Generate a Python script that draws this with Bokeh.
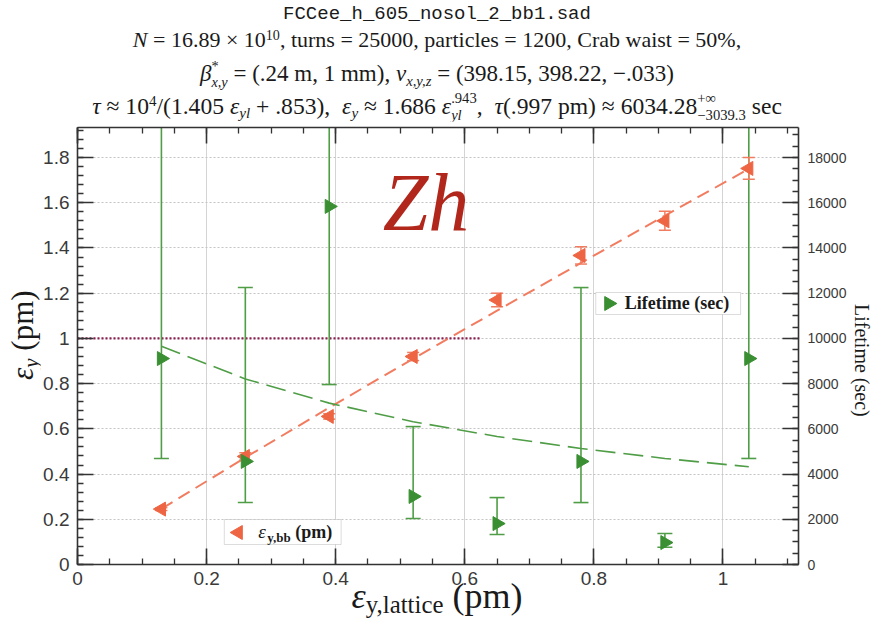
import numpy as np
from bokeh.plotting import figure
from bokeh.models import (Range1d, LinearAxis, Label, Div, BoxAnnotation,
                          SingleIntervalTicker, CustomJSTickFormatter)
from bokeh.layouts import column, row
from bokeh.embed import file_html
from bokeh.resources import INLINE

# ---------------- data ----------------
eps_lattice = [0.13, 0.26, 0.39, 0.52, 0.65, 0.78, 0.91, 1.04]
eps_bb = [0.245, 0.478, 0.655, 0.920, 1.170, 1.367, 1.520, 1.752]
eps_bb_err = [0.006, 0.016, 0.012, 0.018, 0.030, 0.038, 0.042, 0.048]
eps_bb_fit = [0.246, 0.473, 0.694, 0.910, 1.123, 1.334, 1.543, 1.750]

lifetime = [9110, 4560, 15840, 3010, 1810, 4560, 970, 9110]
lifetime_lo = [4690, 2740, 7960, 2035, 1330, 2740, 760, 4690]
lifetime_hi = [None, 12250, None, 6100, 2960, 12250, 1370, None]   # None = +inf
lifetime_fit = [9656, 8208, 7138, 6315, 5662, 5131, 4691, 4321]

ref_line_x = [0.0, 0.625]
ref_line_y = [1.0, 1.0]

# ---------------- styling ----------------
SERIF = "Liberation Serif"
SANS = "Liberation Sans"
GREEN = "#3a8f33"
GREEN_LINE = "#4f9d46"
ORANGE = "#ee6543"
ORANGE_LINE = "#f27c60"
AXIS = "#333333"
TXT = "#1a1a1a"

X0, X1 = 0.0, 1.117
Y0, Y1 = 0.0, 1.933
LIFE_MAX = 19330
FRAME_L, FRAME_R, FRAME_T, FRAME_B = 76, 798, 127, 564
DIV_H = 121
LEFT_W, RIGHT_W = 40, 24
FIG_W = 874 - LEFT_W - RIGHT_W
BOTTOM_BORDER = 30
FIG_H = (FRAME_T - DIV_H) + (FRAME_B - FRAME_T) + BOTTOM_BORDER
BOT_H = 625 - DIV_H - FIG_H
BASE_SHIFT = 0.37   # Label baseline correction (em)


def px2x(px):
    return X0 + (px - FRAME_L) / (FRAME_R - FRAME_L) * (X1 - X0)


def px2y(py):
    return Y0 + (FRAME_B - py) / (FRAME_B - FRAME_T) * (Y1 - Y0)


# ---------------- title (HTML) ----------------
def stack(sup, sub):
    return ('<span style="display:inline-block;vertical-align:-0.42em;line-height:1.15em;'
            'font-size:0.62em;text-align:left;">'
            f'<span style="display:block">{sup}</span><span style="display:block">{sub}</span></span>')


def line(top, html, size=22, font=SERIF):
    return (f'<div style="position:absolute;left:0;top:{top}px;width:874px;text-align:center;'
            f'font-family:\'{font}\';font-size:{size}px;line-height:24px;white-space:nowrap;">{html}</div>')


def sup(t):
    return f'<sup style="font-size:0.64em;vertical-align:0.5em;line-height:0">{t}</sup>'


def sub(t):
    return f'<sub style="font-size:0.64em;vertical-align:-0.3em;line-height:0">{t}</sub>'


title_html = (
    f'<div style="position:relative;width:874px;height:{DIV_H}px;color:{TXT};">'
    + line(2, "FCCee_h_605_nosol_2_bb1.sad", size=19, font="Liberation Mono")
    + line(28, "<i>N</i> = 16.89 × 10" + sup("10") + ", turns = 25000, particles = 1200, Crab waist = 50%,")
    + line(58, "<i>β</i>" + stack("*", "<i>x,y</i>") + " = (.24 m, 1 mm), <i>ν</i>" + sub("<i>x,y,z</i>")
           + " = (398.15, 398.22, −.033)", size=23)
    + line(90, "<i>τ</i> ≈ 10" + sup("4") + "/(1.405 <i>ε</i>" + sub("<i>yl</i>") + " + .853), &nbsp;<i>ε</i>"
           + sub("<i>y</i>") + " ≈ 1.686 <i>ε</i>" + stack(".943", "<i>yl</i>")
           + ", &nbsp;<i>τ</i>(.997 pm) ≈ 6034.28" + stack("+∞", "−3039.3") + " sec", size=23.6)
    + '</div>'
)
title_div = Div(text=title_html, width=874, height=DIV_H, margin=(0, 0, 0, 0))

# ---------------- axis-label divs ----------------
ax_font = 31
left_html = (
    f'<div style="position:relative;width:{LEFT_W}px;height:{FIG_H}px;">'
    f'<div style="position:absolute;left:7px;top:{380 - DIV_H}px;transform:rotate(-90deg);'
    f'transform-origin:0 0;white-space:nowrap;font-family:\'{SERIF}\';font-size:{ax_font}px;'
    f'line-height:{ax_font}px;color:{TXT};">'
    '<i>ε</i><sub style="font-size:0.68em;vertical-align:-0.25em;line-height:0"><i>y</i></sub> (pm)</div></div>'
)
left_div = Div(text=left_html, width=LEFT_W, height=FIG_H, margin=(0, 0, 0, 0),
               styles={"overflow": "visible"})

right_html = (
    f'<div style="position:relative;width:{RIGHT_W}px;height:{FIG_H}px;">'
    f'<div style="position:absolute;left:22px;top:{304 - DIV_H}px;transform:rotate(90deg);'
    f'transform-origin:0 0;white-space:nowrap;font-family:\'{SERIF}\';font-size:20px;'
    f'line-height:20px;color:{TXT};">Lifetime (sec)</div></div>'
)
right_div = Div(text=right_html, width=RIGHT_W, height=FIG_H, margin=(0, 0, 0, 0),
                styles={"overflow": "visible"})

bx_font = 36
bottom_html = (
    f'<div style="position:relative;width:874px;height:{BOT_H}px;">'
    f'<div style="position:absolute;left:0;top:{608 - (DIV_H + FIG_H) - 30}px;width:874px;'
    f'text-align:center;white-space:nowrap;font-family:\'{SERIF}\';font-size:{bx_font}px;'
    f'line-height:{bx_font}px;color:{TXT};">'
    '<i>ε</i><sub style="font-size:0.69em;vertical-align:-0.2em;line-height:0">y,lattice</sub> (pm)'
    '</div></div>'
)
bottom_div = Div(text=bottom_html, width=874, height=BOT_H, margin=(0, 0, 0, 0),
                 styles={"overflow": "visible"})

# ---------------- figure ----------------
p = figure(width=FIG_W, height=FIG_H, x_range=Range1d(X0, X1), y_range=Range1d(Y0, Y1),
           output_backend="svg", toolbar_location=None,
           min_border_left=FRAME_L - LEFT_W, min_border_right=(874 - RIGHT_W) - FRAME_R,
           min_border_top=FRAME_T - DIV_H, min_border_bottom=BOTTOM_BORDER,
           background_fill_color="white", border_fill_color="white")
p.outline_line_color = None
p.extra_y_ranges = {"life": Range1d(0, LIFE_MAX)}

bottom_axis = p.below[0]
left_axis = p.left[0]
right_axis = LinearAxis(y_range_name="life")
p.add_layout(right_axis, "right")
top_axis = LinearAxis()
p.add_layout(top_axis, "above")

fmt = CustomJSTickFormatter(code="return String(+tick.toFixed(3));")
xt = SingleIntervalTicker(interval=0.2, num_minor_ticks=4)
yt = SingleIntervalTicker(interval=0.2, num_minor_ticks=5)
bottom_axis.ticker = xt
top_axis.ticker = SingleIntervalTicker(interval=0.2, num_minor_ticks=4)
left_axis.ticker = yt
right_axis.ticker = SingleIntervalTicker(interval=2000, num_minor_ticks=4)
p.xgrid.ticker = xt
p.ygrid.ticker = yt

for ax in [bottom_axis, left_axis, right_axis, top_axis]:
    ax.formatter = fmt
    ax.axis_line_color = AXIS
    ax.axis_line_width = 1.6
    ax.major_tick_line_color = AXIS
    ax.major_tick_line_width = 1.6
    ax.minor_tick_line_color = AXIS
    ax.minor_tick_line_width = 1.3
    ax.major_tick_in = 16
    ax.major_tick_out = 0
    ax.minor_tick_in = 6
    ax.minor_tick_out = 0
    ax.major_label_text_font = SANS
    ax.major_label_text_color = "#3a3a3a"
    ax.axis_label = None

bottom_axis.major_label_text_font_size = "19px"
bottom_axis.major_label_standoff = 7
left_axis.major_label_text_font_size = "19px"
left_axis.major_label_standoff = 8
right_axis.major_label_text_font_size = "14px"
right_axis.major_label_standoff = 9
top_axis.major_label_text_font_size = "0px"
top_axis.major_label_text_color = None
top_axis.major_label_standoff = 0

p.xgrid.grid_line_color = "#d4d4d4"
p.xgrid.grid_line_width = 1
p.ygrid.grid_line_color = "#c4c4c4"
p.ygrid.grid_line_width = 1.2
p.ygrid.grid_line_dash = "2 2"

# legend boxes (under glyphs, over grid)
p.add_layout(BoxAnnotation(left=px2x(223), right=px2x(340), top=px2y(519), bottom=px2y(544),
                           fill_color="white", fill_alpha=1, line_color="#8a8a8a", line_width=1,
                           level="underlay"))
p.add_layout(BoxAnnotation(left=px2x(595), right=px2x(740), top=px2y(292), bottom=px2y(314),
                           fill_color="white", fill_alpha=1, line_color="#8a8a8a", line_width=1,
                           level="underlay"))

# reference dotted line at 1 pm
p.line(ref_line_x, ref_line_y, line_color="#8a1f4f", line_width=2.2, line_dash="2 2")

# ---- lifetime error bars (right axis) ----
hi_draw = [h if h is not None else 1e6 for h in lifetime_hi]
p.segment(x0=eps_lattice, y0=lifetime_lo, x1=eps_lattice, y1=hi_draw,
          line_color=GREEN_LINE, line_width=1.6, y_range_name="life")
p.scatter(eps_lattice, lifetime_lo, marker="dash", size=15, line_color=GREEN_LINE,
          line_width=1.6, y_range_name="life")
hx = [x for x, h in zip(eps_lattice, lifetime_hi) if h is not None]
hy = [h for h in lifetime_hi if h is not None]
p.scatter(hx, hy, marker="dash", size=15, line_color=GREEN_LINE, line_width=1.6, y_range_name="life")

# ---- eps_bb fit + error bars ----
p.line(eps_lattice, eps_bb_fit, line_color=ORANGE_LINE, line_width=2, line_dash="13 7")
lo = [v - e for v, e in zip(eps_bb, eps_bb_err)]
hi = [v + e for v, e in zip(eps_bb, eps_bb_err)]
p.segment(x0=eps_lattice, y0=lo, x1=eps_lattice, y1=hi, line_color=ORANGE_LINE, line_width=1.5)
p.scatter(eps_lattice, lo, marker="dash", size=12, line_color=ORANGE_LINE, line_width=1.5)
p.scatter(eps_lattice, hi, marker="dash", size=12, line_color=ORANGE_LINE, line_width=1.5)
p.scatter(eps_lattice, eps_bb, marker="triangle", angle=np.pi / 2, size=14,
          fill_color=ORANGE, line_color=ORANGE)

# ---- lifetime fit + points ----
p.line(eps_lattice, lifetime_fit, line_color=GREEN_LINE, line_width=1.6, line_dash="20 8",
       y_range_name="life")
p.scatter(eps_lattice, lifetime, marker="triangle", angle=-np.pi / 2, size=14,
          fill_color=GREEN, line_color=GREEN, y_range_name="life")


def label(px, py, text, size, **kw):
    return Label(x=px2x(px), y=px2y(py - BASE_SHIFT * size), text=text, text_font=SERIF,
                 text_font_size=f"{size}px", text_color=kw.pop("text_color", TXT),
                 text_baseline="alphabetic", **kw)


# ---- Zh ----
p.add_layout(label(425, 232, "Zh", 82, text_align="center", text_font_style="italic",
                   text_color="#b1271c"))

# ---- legend 1 (eps_bb) ----
p.scatter([px2x(237)], [px2y(532)], marker="triangle", angle=np.pi / 2, size=14,
          fill_color=ORANGE, line_color=ORANGE)
p.add_layout(label(257, 538, "ε", 19, text_font_style="italic"))
p.add_layout(label(266, 542, "y,bb", 13, text_font_style="bold"))
p.add_layout(label(294, 538, "(pm)", 18, text_font_style="bold"))

# ---- legend 2 (lifetime) ----
p.scatter([px2x(608)], [px2y(303)], marker="triangle", angle=-np.pi / 2, size=14,
          fill_color=GREEN, line_color=GREEN)
p.add_layout(label(624, 309, "Lifetime (sec)", 18, text_font_style="bold"))

layout = column(title_div, row(left_div, p, right_div, spacing=0), bottom_div, spacing=0)
open("out.html", "w").write(file_html(layout, INLINE))
